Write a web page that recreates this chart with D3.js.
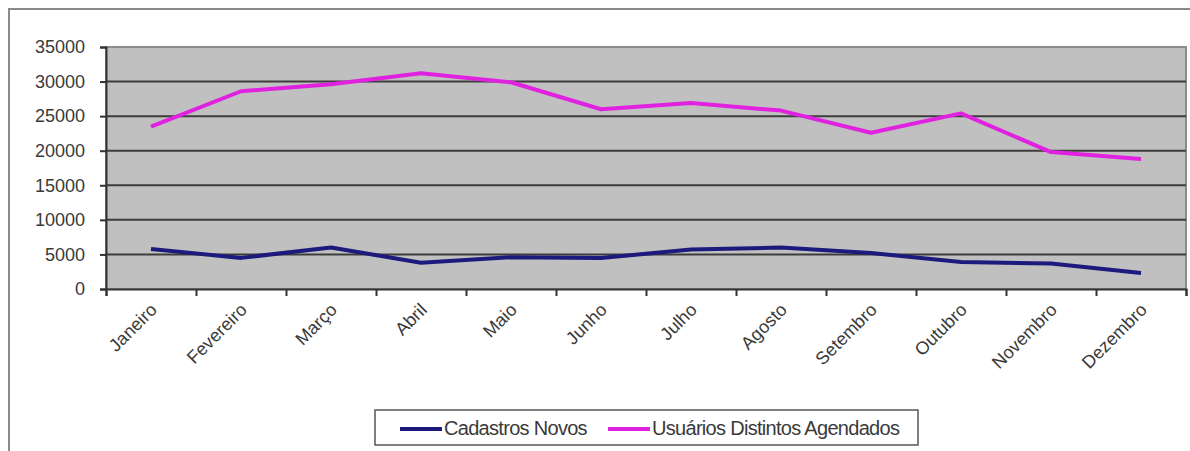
<html>
<head>
<style>
  body { margin: 0; background: #fff; }
  svg { display: block; font-family: "Liberation Sans", Arial, sans-serif; }
  .lbl { fill: #3a3a3a; }
</style>
<script src="https://cdn.jsdelivr.net/npm/d3@7"></script>
</head>
<body>
<svg id="svg"></svg>
<script>
  var width = 1190,
      height = 451;

  var months = ["Janeiro", "Fevereiro", "Março", "Abril", "Maio", "Junho",
                "Julho", "Agosto", "Setembro", "Outubro", "Novembro", "Dezembro"];
  var cadastros = [5800, 4500, 6000, 3800, 4600, 4500, 5700, 6000, 5200, 3900, 3700, 2300];
  var usuarios = [23500, 28600, 29600, 31200, 29900, 26000, 26900, 25800, 22600, 25400, 19800, 18800];
  var yTicks = [0, 5000, 10000, 15000, 20000, 25000, 30000, 35000];
  var seriesNames = ["Cadastros Novos", "Usuários Distintos Agendados"];
  var seriesColors = ["#1c1a7c", "#e022e0"];

  var plot = {left: 106, right: 1186, top: 47, bottom: 289};

  var svg = d3.select("#svg").attr("width", width).attr("height", height);

  // outer chart frame
  svg.append("rect")
    .attr("x", 9).attr("y", 9)
    .attr("width", width + 20).attr("height", height + 20)
    .attr("fill", "#fff").attr("stroke", "#8a8a8a").attr("stroke-width", 2);

  var x = d3.scaleBand().domain(months).range([plot.left, plot.right]);
  var y = d3.scaleLinear().domain([0, 35000]).range([plot.bottom, plot.top]);

  // plot area
  svg.append("rect")
    .attr("x", plot.left).attr("y", plot.top)
    .attr("width", plot.right - plot.left).attr("height", plot.bottom - plot.top)
    .attr("fill", "#c0c0c0").attr("stroke", "#8c8c8c").attr("stroke-width", 2);

  // gridlines
  svg.append("g").selectAll("line")
    .data(yTicks.slice(1, -1))
    .enter().append("line")
      .attr("x1", plot.left).attr("x2", plot.right)
      .attr("y1", d => y(d)).attr("y2", d => y(d))
      .attr("stroke", "#3c3c3c").attr("stroke-width", 2);

  // y axis
  var yAxis = svg.append("g")
    .attr("transform", "translate(" + plot.left + ",0)")
    .call(d3.axisLeft(y).tickValues(yTicks).tickSize(6).tickPadding(15).tickFormat(d3.format("d")));
  yAxis.selectAll("path, line").attr("stroke", "#333").attr("stroke-width", 2);
  yAxis.selectAll("text").attr("class", "lbl").attr("font-size", 18).attr("font-family", null);

  // x axis (ticks between categories)
  var xb = d3.scaleLinear().domain([0, months.length]).range([plot.left, plot.right]);
  var xAxis = svg.append("g")
    .attr("transform", "translate(0," + plot.bottom + ")")
    .call(d3.axisBottom(xb).ticks(months.length).tickSize(7).tickFormat(""));
  xAxis.selectAll("path, line").attr("stroke", "#333").attr("stroke-width", 2);

  svg.append("g").selectAll("text")
    .data(months)
    .enter().append("text")
      .attr("class", "lbl")
      .attr("font-size", 18)
      .attr("text-anchor", "end")
      .attr("transform", d => "translate(" + (x(d) + x.bandwidth() / 2 + 7) + "," + (plot.bottom + 22) + ") rotate(-45)")
      .text(d => d);

  // lines
  var line = d3.line()
    .x((d, i) => x(months[i]) + x.bandwidth() / 2)
    .y(d => y(d));

  [cadastros, usuarios].forEach(function(s, k) {
    svg.append("path")
      .datum(s)
      .attr("d", line)
      .attr("fill", "none")
      .attr("stroke", seriesColors[k])
      .attr("stroke-width", 4)
      .attr("stroke-linejoin", "round");
  });

  // legend
  var legend = svg.append("g");
  legend.append("rect")
    .attr("x", 375).attr("y", 410).attr("width", 543).attr("height", 35)
    .attr("fill", "#fff").attr("stroke", "#555").attr("stroke-width", 1.5);

  var legendX = [400, 608];
  seriesNames.forEach(function(name, k) {
    legend.append("line")
      .attr("x1", legendX[k]).attr("x2", legendX[k] + 42)
      .attr("y1", 429).attr("y2", 429)
      .attr("stroke", seriesColors[k]).attr("stroke-width", 4);
    legend.append("text")
      .attr("class", "lbl")
      .attr("x", legendX[k] + 44).attr("y", 435)
      .attr("font-size", 20)
      .attr("letter-spacing", -0.7)
      .text(name);
  });
</script>
</body>
</html>
